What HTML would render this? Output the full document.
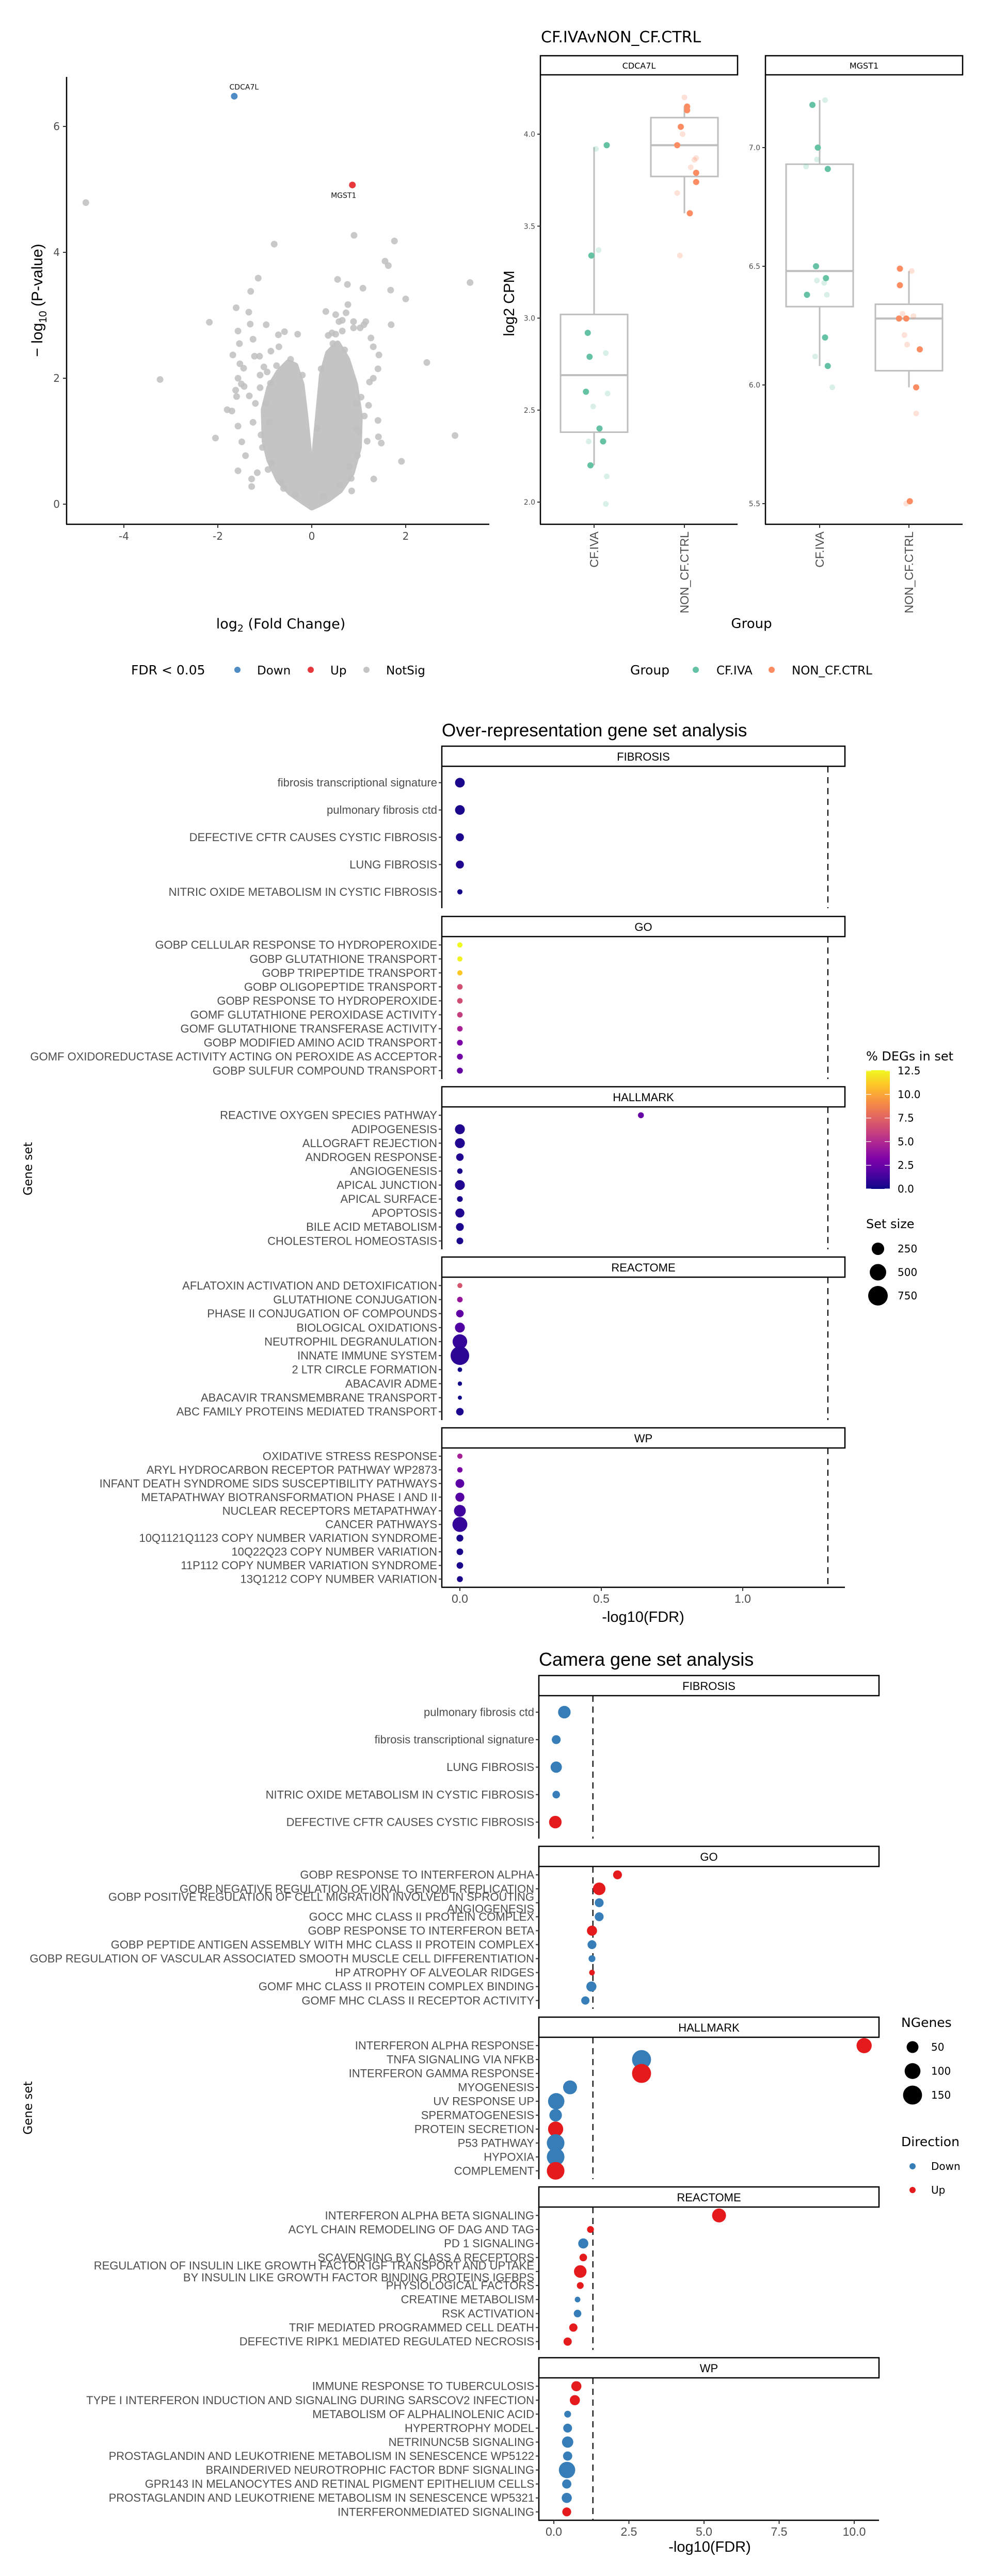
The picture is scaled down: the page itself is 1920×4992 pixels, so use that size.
<!DOCTYPE html>
<html><head><meta charset="utf-8">
<style>
body{margin:0;background:#fff}
svg{display:block;font-family:"DejaVu Sans","Liberation Sans",sans-serif}
</style></head>
<body>
<svg id="fig" width="1920" height="4992" viewBox="0 0 1920 4992">
<defs>
<linearGradient id="plasmaGrad" x1="0" y1="1" x2="0" y2="0">
<stop offset="0" stop-color="#0d0887"/><stop offset="0.125" stop-color="#4c02a1"/><stop offset="0.25" stop-color="#7e03a8"/><stop offset="0.375" stop-color="#a92395"/><stop offset="0.5" stop-color="#cc4778"/><stop offset="0.625" stop-color="#e66c5c"/><stop offset="0.75" stop-color="#f89540"/><stop offset="0.875" stop-color="#fdc527"/><stop offset="1" stop-color="#f0f921"/>
</linearGradient>
</defs>
</svg>
<script>
// ================= DATA =================
const volX = [-4.81,-3.23,-2.18,-2.05,-0.80,-1.14,-1.30,-1.61,-1.34,-0.97,-1.31,-1.57,-1.25,-1.54,-1.68,-1.22,-1.11,-0.87,-1.53,-1.45,-1.57,-1.50,-1.44,-1.62,-1.60,-1.33,-1.80,-1.70,-1.57,-1.49,-1.41,-1.57,-1.28,-1.28,-1.16,-0.30,-0.58,-0.71,-0.70,-1.02,-1.10,-0.95,-0.88,-1.20,-1.25,-1.08,-0.93,0.90,1.76,1.56,1.63,0.55,0.76,1.09,1.68,3.37,2.00,0.77,0.30,0.51,0.73,1.11,1.69,2.45,3.05,1.91,1.32,1.41,1.42,1.48,1.26,1.31,1.43,1.41,1.31,1.23,1.21,0.85,0.84,0.97,1.15,1.03,0.89,0.89,0.65,0.51,0.58,0.65,0.43,0.35,1.05,1.12,0.95,1.18,-0.98,-1.05,-0.85,-0.9,-0.6,-0.45,-0.2,0.2,0.45,0.7,0.95,1.0,0.8,-0.75,-1.1,-0.65,0.6,0.25,-0.35,0.12];
const volY = [4.79,1.98,2.89,1.05,4.13,3.59,3.38,3.12,3.05,2.85,2.86,2.75,2.62,2.55,2.37,2.35,2.35,2.43,2.23,2.16,2.00,1.91,1.87,1.81,1.71,1.72,1.50,1.48,1.24,0.99,0.77,0.53,0.28,0.40,0.50,2.70,2.74,2.69,2.50,2.18,2.05,2.10,1.92,1.60,1.30,1.10,0.55,4.27,4.18,3.86,3.79,3.57,3.49,3.43,3.40,3.52,3.26,3.17,3.06,3.01,3.04,2.85,2.85,2.25,1.09,0.68,0.40,1.33,1.07,0.97,2.64,2.50,2.37,2.15,2.00,1.94,1.57,0.21,0.41,0.77,2.90,2.80,2.90,2.80,2.75,2.70,2.90,2.92,2.72,2.68,1.70,1.40,1.20,1.00,1.6,0.9,0.65,1.3,0.25,2.3,2.05,2.15,2.55,2.45,1.6,1.15,0.6,2.2,1.85,0.35,0.3,0.12,0.15,1.2];
const volDensX = [0,-0.2,-0.45,-0.7,-0.9,-1.0,-1.02,-0.9,-0.7,-0.5,-0.35,-0.22,-0.14,-0.07,-0.02,0,0.03,0.08,0.15,0.22,0.35,0.55,0.75,0.92,1.02,1.0,0.85,0.6,0.35,0.15];
const volDensY = [-0.05,0.05,0.18,0.38,0.7,1.0,1.5,1.85,2.1,2.25,2.2,1.9,1.4,0.9,0.45,0.3,0.45,0.95,1.5,2.05,2.4,2.55,2.3,1.9,1.4,0.9,0.5,0.22,0.08,0.0];
const volSigGene = ['CDCA7L','MGST1'];
const volSigX = [-1.65,0.865];
const volSigY = [6.48,5.07];
const volSigDir = ['Down','Up'];
const volXTicks = [-4,-2,0,2];
const volYTicks = [0,2,4,6];

const boxGenes = ['CDCA7L','MGST1'];
const boxGroups = ['CF.IVA','NON_CF.CTRL'];
const cdca7lIvaStats = [2.20,2.38,2.69,3.02,3.93];
const cdca7lNonStats = [3.57,3.77,3.94,4.09,4.15];
const mgst1IvaStats = [6.08,6.33,6.48,6.93,7.20];
const mgst1NonStats = [5.99,6.06,6.28,6.34,6.48];
const cdca7lIvaVals = [3.94,3.34,2.92,2.79,2.60,2.40,2.33,2.20];
const cdca7lIvaJit = [0.14,-0.03,-0.07,-0.05,-0.09,0.06,0.10,-0.04];
const cdca7lIvaFaint = [3.92,3.37,2.81,2.59,2.52,2.33,2.14,1.99];
const cdca7lIvaFaintJit = [0.02,0.05,0.13,0.15,-0.01,-0.06,0.14,0.13];
const cdca7lNonVals = [4.15,4.13,4.04,3.94,3.79,3.74,3.57];
const cdca7lNonJit = [0.03,0.03,-0.04,-0.08,0.13,0.13,0.06];
const cdca7lNonFaint = [4.20,4.00,3.87,3.86,3.82,3.68,3.34];
const cdca7lNonFaintJit = [0.0,-0.02,0.13,0.11,0.07,-0.08,-0.05];
const mgst1IvaVals = [7.18,7.00,6.91,6.50,6.45,6.38,6.20,6.08];
const mgst1IvaJit = [-0.08,-0.02,0.09,-0.04,0.07,-0.14,0.06,0.09];
const mgst1IvaFaint = [7.20,6.95,6.92,6.44,6.43,6.38,6.12,5.99];
const mgst1IvaFaintJit = [0.06,-0.03,-0.15,-0.03,0.05,0.08,-0.05,0.14];
const mgst1NonVals = [6.49,6.42,6.28,6.28,6.15,5.99,5.51];
const mgst1NonJit = [-0.1,-0.1,-0.11,-0.03,0.12,0.08,0.01];
const mgst1NonFaint = [6.48,6.30,6.29,6.21,6.17,5.88,5.50];
const mgst1NonFaintJit = [0.03,-0.07,0.05,-0.05,-0.02,0.08,-0.03];
const cdca7lTicks = [2.0,2.5,3.0,3.5,4.0];
const mgst1Ticks = [5.5,6.0,6.5,7.0];

const oraFacets = ['FIBROSIS','GO','HALLMARK','REACTOME','WP'];
const oraFibTerms = ['fibrosis transcriptional signature','pulmonary fibrosis ctd','DEFECTIVE CFTR CAUSES CYSTIC FIBROSIS','LUNG FIBROSIS','NITRIC OXIDE METABOLISM IN CYSTIC FIBROSIS'];
const oraFibFDR = [0,0,0,0,0];
const oraFibPct = [0.3,0.3,0.4,0.5,0.2];
const oraFibSize = [190,190,120,120,30];
const oraGoTerms = ['GOBP CELLULAR RESPONSE TO HYDROPEROXIDE','GOBP GLUTATHIONE TRANSPORT','GOBP TRIPEPTIDE TRANSPORT','GOBP OLIGOPEPTIDE TRANSPORT','GOBP RESPONSE TO HYDROPEROXIDE','GOMF GLUTATHIONE PEROXIDASE ACTIVITY','GOMF GLUTATHIONE TRANSFERASE ACTIVITY','GOBP MODIFIED AMINO ACID TRANSPORT','GOMF OXIDOREDUCTASE ACTIVITY ACTING ON PEROXIDE AS ACCEPTOR','GOBP SULFUR COMPOUND TRANSPORT'];
const oraGoFDR = [0,0,0,0,0,0,0,0,0,0];
const oraGoPct = [12.5,12.3,11.0,6.6,6.5,5.9,4.6,3.1,2.8,2.3];
const oraGoSize = [30,30,30,38,38,38,38,45,48,50];
const oraHmTerms = ['REACTIVE OXYGEN SPECIES PATHWAY','ADIPOGENESIS','ALLOGRAFT REJECTION','ANDROGEN RESPONSE','ANGIOGENESIS','APICAL JUNCTION','APICAL SURFACE','APOPTOSIS','BILE ACID METABOLISM','CHOLESTEROL HOMEOSTASIS'];
const oraHmFDR = [0.64,0,0,0,0,0,0,0,0,0];
const oraHmPct = [2.4,0.5,0.5,0.5,0.3,0.5,0.3,0.5,0.4,0.3];
const oraHmSize = [49,200,200,100,36,200,44,161,112,74];
const oraReTerms = ['AFLATOXIN ACTIVATION AND DETOXIFICATION','GLUTATHIONE CONJUGATION','PHASE II CONJUGATION OF COMPOUNDS','BIOLOGICAL OXIDATIONS','NEUTROPHIL DEGRANULATION','INNATE IMMUNE SYSTEM','2 LTR CIRCLE FORMATION','ABACAVIR ADME','ABACAVIR TRANSMEMBRANE TRANSPORT','ABC FAMILY PROTEINS MEDIATED TRANSPORT'];
const oraReFDR = [0,0,0,0,0,0,0,0,0,0];
const oraRePct = [6.8,4.0,2.2,1.6,1.0,0.8,0.1,0.1,0.1,0.4];
const oraReSize = [25,40,100,200,480,800,15,10,5,100];
const oraWpTerms = ['OXIDATIVE STRESS RESPONSE','ARYL HYDROCARBON RECEPTOR PATHWAY WP2873','INFANT DEATH SYNDROME SIDS SUSCEPTIBILITY PATHWAYS','METAPATHWAY BIOTRANSFORMATION PHASE I AND II','NUCLEAR RECEPTORS METAPATHWAY','CANCER PATHWAYS','10Q1121Q1123 COPY NUMBER VARIATION SYNDROME','10Q22Q23 COPY NUMBER VARIATION','11P112 COPY NUMBER VARIATION SYNDROME','13Q1212 COPY NUMBER VARIATION'];
const oraWpFDR = [0,0,0,0,0,0,0,0,0,0];
const oraWpPct = [4.6,3.0,2.0,1.8,1.3,1.0,0.3,0.3,0.3,0.3];
const oraWpSize = [30,35,150,160,300,500,80,70,70,50];
const oraXTicks = [0.0,0.5,1.0];
const pctTicks = [0.0,2.5,5.0,7.5,10.0,12.5];
const setSizeTicks = [250,500,750];

const camFibTerms = ['pulmonary fibrosis ctd','fibrosis transcriptional signature','LUNG FIBROSIS','NITRIC OXIDE METABOLISM IN CYSTIC FIBROSIS','DEFECTIVE CFTR CAUSES CYSTIC FIBROSIS'];
const camFibFDR = [0.35,0.08,0.08,0.08,0.05];
const camFibN = [64,27,50,17,64];
const camFibDir = ['Down','Down','Down','Down','Up'];
const camGoTerms = ['GOBP RESPONSE TO INTERFERON ALPHA','GOBP NEGATIVE REGULATION OF VIRAL GENOME REPLICATION','GOBP POSITIVE REGULATION OF CELL MIGRATION INVOLVED IN SPROUTING\nANGIOGENESIS','GOCC MHC CLASS II PROTEIN COMPLEX','GOBP RESPONSE TO INTERFERON BETA','GOBP PEPTIDE ANTIGEN ASSEMBLY WITH MHC CLASS II PROTEIN COMPLEX','GOBP REGULATION OF VASCULAR ASSOCIATED SMOOTH MUSCLE CELL DIFFERENTIATION','HP ATROPHY OF ALVEOLAR RIDGES','GOMF MHC CLASS II PROTEIN COMPLEX BINDING','GOMF MHC CLASS II RECEPTOR ACTIVITY'];
const camGoFDR = [2.12,1.51,1.51,1.51,1.27,1.27,1.27,1.27,1.25,1.05];
const camGoN = [27,64,27,27,38,27,12,5,38,22];
const camGoDir = ['Up','Up','Down','Down','Up','Down','Down','Up','Down','Down'];
const camHmTerms = ['INTERFERON ALPHA RESPONSE','TNFA SIGNALING VIA NFKB','INTERFERON GAMMA RESPONSE','MYOGENESIS','UV RESPONSE UP','SPERMATOGENESIS','PROTEIN SECRETION','P53 PATHWAY','HYPOXIA','COMPLEMENT'];
const camHmFDR = [10.33,2.92,2.92,0.54,0.08,0.06,0.06,0.06,0.06,0.06];
const camHmN = [98,160,160,81,116,64,98,136,136,136];
const camHmDir = ['Up','Down','Up','Down','Down','Down','Up','Down','Down','Up'];
const camReTerms = ['INTERFERON ALPHA BETA SIGNALING','ACYL CHAIN REMODELING OF DAG AND TAG','PD 1 SIGNALING','SCAVENGING BY CLASS A RECEPTORS','REGULATION OF INSULIN LIKE GROWTH FACTOR IGF TRANSPORT AND UPTAKE\nBY INSULIN LIKE GROWTH FACTOR BINDING PROTEINS IGFBPS','PHYSIOLOGICAL FACTORS','CREATINE METABOLISM','RSK ACTIVATION','TRIF MEDIATED PROGRAMMED CELL DEATH','DEFECTIVE RIPK1 MEDIATED REGULATED NECROSIS'];
const camReFDR = [5.5,1.22,0.98,0.98,0.88,0.88,0.79,0.79,0.65,0.46];
const camReN = [81,12,38,17,64,12,5,17,22,22];
const camReDir = ['Up','Up','Down','Up','Up','Up','Down','Down','Up','Up'];
const camWpTerms = ['IMMUNE RESPONSE TO TUBERCULOSIS','TYPE I INTERFERON INDUCTION AND SIGNALING DURING SARSCOV2 INFECTION','METABOLISM OF ALPHALINOLENIC ACID','HYPERTROPHY MODEL','NETRINUNC5B SIGNALING','PROSTAGLANDIN AND LEUKOTRIENE METABOLISM IN SENESCENCE WP5122','BRAINDERIVED NEUROTROPHIC FACTOR BDNF SIGNALING','GPR143 IN MELANOCYTES AND RETINAL PIGMENT EPITHELIUM CELLS','PROSTAGLANDIN AND LEUKOTRIENE METABOLISM IN SENESCENCE WP5321','INTERFERONMEDIATED SIGNALING'];
const camWpFDR = [0.75,0.70,0.46,0.46,0.46,0.46,0.44,0.43,0.43,0.43];
const camWpN = [38,38,12,27,50,30,116,30,38,27];
const camWpDir = ['Up','Up','Down','Down','Down','Down','Down','Down','Down','Up'];
const camXTicks = [0.0,2.5,5.0,7.5,10.0];
const nGenesTicks = [50,100,150];
const dirLevels = ['Down','Up'];

// ================= DRAW =================
const NS = 'http://www.w3.org/2000/svg';
const svg = document.getElementById('fig');
function mk(tag, attrs, parent) {
  const e = document.createElementNS(NS, tag);
  for (const k in attrs) e.setAttribute(k, attrs[k]);
  (parent || svg).appendChild(e);
  return e;
}
function tx(str, attrs, parent) {
  const e = mk('text', attrs, parent);
  e.textContent = str;
  return e;
}
const GREY = '#4d4d4d';
const NARROW = '"Liberation Sans Narrow","Liberation Sans",sans-serif';

// ---------- Volcano ----------
const gV = mk('g', {});


const vx = v => 604 + v * 91;
const vy = v => 977 - v * 122;
{
  const d = volDensX.map((x, i) => (i ? 'L' : 'M') + vx(x).toFixed(1) + ' ' + vy(volDensY[i]).toFixed(1)).join(' ') + ' Z';
  const dens = mk('path', {d: d, fill: '#c4c4c4', stroke: '#c4c4c4', 'stroke-width': 12, 'stroke-linejoin': 'round'}, gV);
  
  
  volX.forEach((x, i) => {
    const c = mk('circle', {cx: vx(x), cy: vy(volY[i]), r: 6.5, fill: '#c0c0c0', 'fill-opacity': 0.85}, gV);
    
    
  });
  volSigGene.forEach((g, i) => {
    const c = mk('circle', {cx: vx(volSigX[i]), cy: vy(volSigY[i]), r: 6.5, fill: volSigDir[i] === 'Down' ? '#4f8cc6' : '#e8383d'}, gV);
    
    
    const ly = volSigDir[i] === 'Down' ? vy(volSigY[i]) - 13 : vy(volSigY[i]) + 25;
    const l = tx(g, {x: vx(volSigX[i]) + (volSigDir[i] === 'Down' ? 19 : -17), y: ly, 'font-size': 14, 'text-anchor': 'middle', fill: '#111'}, gV);
    
    
  });
  const ya = mk('line', {x1: 129, y1: 149, x2: 129, y2: 1016, stroke: '#000', 'stroke-width': 2.5}, gV);
  
  
  const xa = mk('line', {x1: 128, y1: 1016, x2: 948, y2: 1016, stroke: '#000', 'stroke-width': 2.5}, gV);
  
  
  volYTicks.forEach(t => {
    const tk = mk('line', {x1: 122, x2: 129, y1: vy(t), y2: vy(t), stroke: '#333', 'stroke-width': 2}, gV);
    
    
    const l = tx(String(t), {x: 116, y: vy(t) + 7, 'font-size': 20, 'text-anchor': 'end', fill: GREY}, gV);
    
    
  });
  volXTicks.forEach(t => {
    const tk = mk('line', {x1: vx(t), x2: vx(t), y1: 1016, y2: 1023, stroke: '#333', 'stroke-width': 2}, gV);
    
    
    const l = tx(t < 0 ? '-' + Math.abs(t) : String(t), {x: vx(t), y: 1046, 'font-size': 20, 'text-anchor': 'middle', fill: GREY}, gV);
    
    
  });
  const yt = mk('text', {x: 0, y: 0, 'font-size': 30, 'text-anchor': 'middle', transform: 'translate(82,582) rotate(-90)', 'font-family': 'Liberation Sans, sans-serif'}, gV);
  yt.innerHTML = '\u2212 log<tspan font-size="21" dy="8">10</tspan><tspan dy="-8"> (P-value)</tspan>';
  
  
  const xt = mk('text', {x: 544, y: 1218, 'font-size': 27, 'text-anchor': 'middle'}, gV);
  xt.innerHTML = 'log<tspan font-size="19" dy="6">2</tspan><tspan dy="-6"> (Fold Change)</tspan>';
  
  
  const lt = tx('FDR < 0.05', {x: 254, y: 1307, 'font-size': 25}, gV);
  
  
  const legItems = [['Down', '#4f8cc6', 460, 498], ['Up', '#e8383d', 602, 640], ['NotSig', '#c4c4c4', 710, 748]];
  legItems.forEach(it => {
    const c = mk('circle', {cx: it[2], cy: 1298, r: 6, fill: it[1]}, gV);
    
    
    const l = tx(it[0], {x: it[3], y: 1307, 'font-size': 23}, gV);
    
    
  });
}

// ---------- Box plots ----------
const gB = mk('g', {});


{
  const t = tx('CF.IVAvNON_CF.CTRL', {x: 1048, y: 82, 'font-size': 30}, gB);
  
  
  const panels = [
    {gene: boxGenes[0], x0: 1047, x1: 1429, cat: [1151, 1326], y: v => 260 + (4.0 - v) * 356.5, ticks: cdca7lTicks,
     stats: [cdca7lIvaStats, cdca7lNonStats], vals: [cdca7lIvaVals, cdca7lNonVals], jit: [cdca7lIvaJit, cdca7lNonJit],
     faint: [cdca7lIvaFaint, cdca7lNonFaint], fjit: [cdca7lIvaFaintJit, cdca7lNonFaintJit]},
    {gene: boxGenes[1], x0: 1483, x1: 1865, cat: [1588, 1761], y: v => 286 + (7.0 - v) * 460, ticks: mgst1Ticks,
     stats: [mgst1IvaStats, mgst1NonStats], vals: [mgst1IvaVals, mgst1NonVals], jit: [mgst1IvaJit, mgst1NonJit],
     faint: [mgst1IvaFaint, mgst1NonFaint], fjit: [mgst1IvaFaintJit, mgst1NonFaintJit]}
  ];
  const cols = ['#66c2a5', '#fc8d62'];
  panels.forEach(p => {
    const g = mk('g', {}, gB);
    
    
    const s = mk('rect', {x: p.x0, y: 108, width: p.x1 - p.x0, height: 37, fill: '#fff', stroke: '#000', 'stroke-width': 2.5}, g);
    
    
    const st = tx(p.gene, {x: (p.x0 + p.x1) / 2, y: 133, 'font-size': 16, 'text-anchor': 'middle'}, g);
    
    
    const ya = mk('line', {x1: p.x0, x2: p.x0, y1: 145, y2: 1016, stroke: '#000', 'stroke-width': 2.5}, g);
    
    
    const xa = mk('line', {x1: p.x0 - 1, x2: p.x1, y1: 1016, y2: 1016, stroke: '#000', 'stroke-width': 2.5}, g);
    
    
    p.ticks.forEach(v => {
      const tk = mk('line', {x1: p.x0 - 6, x2: p.x0, y1: p.y(v), y2: p.y(v), stroke: '#333', 'stroke-width': 2}, g);
      
      
      const l = tx(v.toFixed(1), {x: p.x0 - 10, y: p.y(v) + 5, 'font-size': 14, 'text-anchor': 'end', fill: GREY}, g);
      
      
    });
    p.stats.forEach((s5, k) => {
      const cx = p.cat[k];
      const w = 65;
      const wl = mk('line', {x1: cx, x2: cx, y1: p.y(s5[4]), y2: p.y(s5[3]), stroke: '#bebebe', 'stroke-width': 3}, g);
      
      
      const wl2 = mk('line', {x1: cx, x2: cx, y1: p.y(s5[1]), y2: p.y(s5[0]), stroke: '#bebebe', 'stroke-width': 3}, g);
      
      
      const bx = mk('rect', {x: cx - w, y: p.y(s5[3]), width: 2 * w, height: p.y(s5[1]) - p.y(s5[3]), fill: '#fff', stroke: '#bebebe', 'stroke-width': 3}, g);
      
      
      const md = mk('line', {x1: cx - w, x2: cx + w, y1: p.y(s5[2]), y2: p.y(s5[2]), stroke: '#bebebe', 'stroke-width': 4}, g);
      
      
      p.faint[k].forEach((v, i) => {
        const c = mk('circle', {cx: cx + p.fjit[k][i] * 175, cy: p.y(v), r: 5.5, fill: cols[k], 'fill-opacity': 0.25}, g);
        
        
      });
      p.vals[k].forEach((v, i) => {
        const c = mk('circle', {cx: cx + p.jit[k][i] * 175, cy: p.y(v), r: 6, fill: cols[k]}, g);
        
        
      });
      const tk = mk('line', {x1: cx, x2: cx, y1: 1016, y2: 1023, stroke: '#333', 'stroke-width': 2}, g);
      
      
      const l = tx(boxGroups[k], {x: 0, y: 0, 'font-size': 23, 'text-anchor': 'end', 'dominant-baseline': 'central', fill: GREY, transform: 'translate(' + cx + ',1030) rotate(-90)', 'font-family': NARROW}, g);
      
      
    });
  });
  const yt = tx('log2 CPM', {x: 0, y: 0, 'font-size': 29, 'text-anchor': 'middle', transform: 'translate(996,588) rotate(-90)', 'font-family': NARROW}, gB);
  
  
  const xt = tx('Group', {x: 1456, y: 1217, 'font-size': 26, 'text-anchor': 'middle'}, gB);
  
  
  const lt = tx('Group', {x: 1221, y: 1307, 'font-size': 25}, gB);
  
  
  [[boxGroups[0], cols[0], 1348, 1388], [boxGroups[1], cols[1], 1495, 1534]].forEach(it => {
    const c = mk('circle', {cx: it[2], cy: 1298, r: 6, fill: it[1]}, gB);
    
    
    const l = tx(it[0], {x: it[3], y: 1307, 'font-size': 23}, gB);
    
    
  });
}

// ---------- shared dot-panel helper ----------
const plasma = ['#0d0887','#4c02a1','#7e03a8','#a92395','#cc4778','#e66c5c','#f89540','#fdc527','#f0f921'];
function hexToRgb(h) { return [parseInt(h.substr(1, 2), 16), parseInt(h.substr(3, 2), 16), parseInt(h.substr(5, 2), 16)]; }
function plasmaColor(p) {
  let t = Math.max(0, Math.min(1, p / 12.5)) * 8;
  const i = Math.min(7, Math.floor(t));
  const f = t - i;
  const a = hexToRgb(plasma[i]), b = hexToRgb(plasma[i + 1]);
  return 'rgb(' + a.map((v, k) => Math.round(v + (b[k] - v) * f)).join(',') + ')';
}
function drawPanel(g, cfg) {
  const {x0, x1, top, bottom, facet, terms, xs, rs, colors, xfn} = cfg;
  const s = mk('rect', {x: x0, y: top - 39, width: x1 - x0, height: 39, fill: '#fff', stroke: '#000', 'stroke-width': 2.5}, g);
  
  
  const st = tx(facet, {x: (x0 + x1) / 2, y: top - 11, 'font-size': 22, 'text-anchor': 'middle', 'font-family': NARROW}, g);
  
  
  const ya = mk('line', {x1: x0, x2: x0, y1: top, y2: bottom, stroke: '#000', 'stroke-width': 2.5}, g);
  
  
  const dl = mk('line', {x1: xfn(1.30103), x2: xfn(1.30103), y1: top, y2: bottom, stroke: '#000', 'stroke-width': 2.2, 'stroke-dasharray': '12 9'}, g);
  
  
  const n = terms.length;
  const step = (bottom - top) / (n + 0.2);
  terms.forEach((t, i) => {
    const y = top + step * (0.6 + i);
    const tk = mk('line', {x1: x0 - 6, x2: x0, y1: y, y2: y, stroke: '#333', 'stroke-width': 2}, g);
    
    
    const lines = t.split('\n');
    const l = mk('text', {x: x0 - 9, y: y, 'font-size': 22, 'text-anchor': 'end', fill: GREY, 'font-family': NARROW}, g);
    lines.forEach((ln, k) => {
      const ts = mk('tspan', {x: x0 - 9, y: y + 7.5 + (k - (lines.length - 1) / 2) * 23}, l);
      ts.textContent = ln;
    });
    
    
    const c = mk('circle', {cx: xfn(xs[i]), cy: y, r: rs[i], fill: colors[i]}, g);
    
    
  });
}

// ---------- ORA ----------
const gO = mk('g', {});


const ox = v => 891 + v * 548;
const oraR = n => Math.sqrt(14 + 0.389 * n);
{
  const t = tx('Over-representation gene set analysis', {x: 856, y: 1427, 'font-size': 35, 'font-family': NARROW}, gO);
  
  
  const pY = [[1485, 1760], [1815, 2091], [2145, 2421], [2475, 2752], [2806, 3076]];
  const sets = [[oraFibTerms, oraFibFDR, oraFibPct, oraFibSize], [oraGoTerms, oraGoFDR, oraGoPct, oraGoSize], [oraHmTerms, oraHmFDR, oraHmPct, oraHmSize], [oraReTerms, oraReFDR, oraRePct, oraReSize], [oraWpTerms, oraWpFDR, oraWpPct, oraWpSize]];
  oraFacets.forEach((f, k) => {
    const g = mk('g', {}, gO);
    
    
    drawPanel(g, {x0: 856, x1: 1637, top: pY[k][0], bottom: pY[k][1], facet: f, terms: sets[k][0], xs: sets[k][1], rs: sets[k][3].map(oraR), colors: sets[k][2].map(plasmaColor), xfn: ox});
  });
  const xa = mk('line', {x1: 855, x2: 1637, y1: 3076, y2: 3076, stroke: '#000', 'stroke-width': 2.5}, gO);
  
  
  oraXTicks.forEach(v => {
    const tk = mk('line', {x1: ox(v), x2: ox(v), y1: 3076, y2: 3083, stroke: '#333', 'stroke-width': 2}, gO);
    
    
    const l = tx(v.toFixed(1), {x: ox(v), y: 3106, 'font-size': 23, 'text-anchor': 'middle', fill: GREY, 'font-family': NARROW}, gO);
    
    
  });
  const xt = tx('-log10(FDR)', {x: 1246, y: 3143, 'font-size': 29, 'text-anchor': 'middle', 'font-family': NARROW}, gO);
  
  
  const yt = tx('Gene set', {x: 0, y: 0, 'font-size': 23, 'text-anchor': 'middle', transform: 'translate(62,2265) rotate(-90)'}, gO);
  
  
  const ct = tx('% DEGs in set', {x: 1678, y: 2055, 'font-size': 24}, gO);
  
  
  const cb = mk('rect', {x: 1678, y: 2074, width: 46, height: 230, fill: 'url(#plasmaGrad)'}, gO);
  
  
  const cy = v => 2304 - v / 12.5 * 229;
  pctTicks.forEach(v => {
    [[1678, 1688], [1714, 1724]].forEach(xx => {
      const tk = mk('line', {x1: xx[0], x2: xx[1], y1: cy(v), y2: cy(v), stroke: '#fff', 'stroke-width': 1.2}, gO);
      
      
    });
    const l = tx(v.toFixed(1), {x: 1739, y: cy(v) + 7, 'font-size': 20}, gO);
    
    
  });
  const sz = tx('Set size', {x: 1678, y: 2380, 'font-size': 24}, gO);
  
  
  setSizeTicks.forEach((v, i) => {
    const y = 2420 + i * 45.5;
    const c = mk('circle', {cx: 1701, cy: y, r: oraR(v) + 1.5, fill: '#000'}, gO);
    
    
    const l = tx(String(v), {x: 1739, y: y + 7, 'font-size': 20}, gO);
    
    
  });
}

// ---------- Camera ----------
const gC = mk('g', {});


const cxf = v => 1073 + v * 58.2;
const camR = n => Math.sqrt(20 + 2.0 * n);
const dirCol = d => d === 'Up' ? '#e41a1c' : '#377eb8';
{
  const t = tx('Camera gene set analysis', {x: 1044, y: 3228, 'font-size': 36, 'font-family': NARROW}, gC);
  
  
  const pY = [[3286, 3563], [3617, 3893], [3948, 4223], [4277, 4554], [4608, 4884]];
  const sets = [[camFibTerms, camFibFDR, camFibN, camFibDir], [camGoTerms, camGoFDR, camGoN, camGoDir], [camHmTerms, camHmFDR, camHmN, camHmDir], [camReTerms, camReFDR, camReN, camReDir], [camWpTerms, camWpFDR, camWpN, camWpDir]];
  oraFacets.forEach((f, k) => {
    const g = mk('g', {}, gC);
    
    
    drawPanel(g, {x0: 1044, x1: 1703, top: pY[k][0], bottom: pY[k][1], facet: f, terms: sets[k][0], xs: sets[k][1], rs: sets[k][2].map(camR), colors: sets[k][3].map(dirCol), xfn: cxf});
  });
  const xa = mk('line', {x1: 1043, x2: 1703, y1: 4884, y2: 4884, stroke: '#000', 'stroke-width': 2.5}, gC);
  
  
  camXTicks.forEach(v => {
    const tk = mk('line', {x1: cxf(v), x2: cxf(v), y1: 4884, y2: 4891, stroke: '#333', 'stroke-width': 2}, gC);
    
    
    const l = tx(v.toFixed(1), {x: cxf(v), y: 4914, 'font-size': 23, 'text-anchor': 'middle', fill: GREY, 'font-family': NARROW}, gC);
    
    
  });
  const xt = tx('-log10(FDR)', {x: 1375, y: 4945, 'font-size': 29, 'text-anchor': 'middle', 'font-family': NARROW}, gC);
  
  
  const yt = tx('Gene set', {x: 0, y: 0, 'font-size': 23, 'text-anchor': 'middle', transform: 'translate(62,4085) rotate(-90)'}, gC);
  
  
  const nt = tx('NGenes', {x: 1746, y: 3928, 'font-size': 25}, gC);
  
  
  nGenesTicks.forEach((v, i) => {
    const y = 3967 + i * 46.5;
    const c = mk('circle', {cx: 1768, cy: y, r: camR(v) + 0.5, fill: '#000'}, gC);
    
    
    const l = tx(String(v), {x: 1804, y: y + 7, 'font-size': 20}, gC);
    
    
  });
  const dt = tx('Direction', {x: 1746, y: 4159, 'font-size': 25}, gC);
  
  
  dirLevels.forEach((d, i) => {
    const y = 4198 + i * 46;
    const c = mk('circle', {cx: 1768, cy: y, r: 6, fill: dirCol(d)}, gC);
    
    
    const l = tx(d, {x: 1804, y: y + 7, 'font-size': 20}, gC);
    
    
  });
}
</script>
</body></html>
